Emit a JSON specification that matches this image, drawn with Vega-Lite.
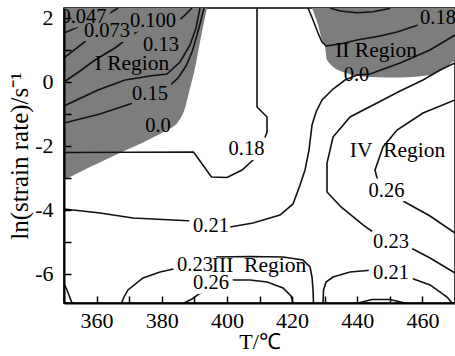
{
  "$schema": "https://vega.github.io/schema/vega-lite/v6.json",
  "width": 391,
  "height": 295,
  "autosize": {"type": "none"},
  "padding": {"left": 64, "top": 8, "right": 0, "bottom": 53},
  "background": "white",
  "config": {"view": {"stroke": "black", "strokeWidth": 1.5}, "font": "Liberation Serif"},
  "datasets": {
    "regions": [
      {"region": "I", "T": 350, "lnr": -3.067}, {"region": "I", "T": 357.98, "lnr": -2.661}, {"region": "I", "T": 367.8, "lnr": -2.193},
      {"region": "I", "T": 376.4, "lnr": -1.787}, {"region": "I", "T": 381.0, "lnr": -1.537}, {"region": "I", "T": 384.99, "lnr": -1.256},
      {"region": "I", "T": 387.14, "lnr": -0.819}, {"region": "I", "T": 388.37, "lnr": -0.32}, {"region": "I", "T": 390.21, "lnr": 0.43},
      {"region": "I", "T": 391.74, "lnr": 1.241}, {"region": "I", "T": 392.97, "lnr": 1.866}, {"region": "I", "T": 393.89, "lnr": 2.303},
      {"region": "II", "T": 426.12, "lnr": 2.303}, {"region": "II", "T": 427.96, "lnr": 1.772}, {"region": "II", "T": 429.19, "lnr": 1.304},
      {"region": "II", "T": 430.11, "lnr": 1.085}, {"region": "II", "T": 430.72, "lnr": 0.68}, {"region": "II", "T": 435.63, "lnr": 0.305},
      {"region": "II", "T": 443.92, "lnr": 0.149}, {"region": "II", "T": 453.13, "lnr": 0.133}, {"region": "II", "T": 462.34, "lnr": 0.211},
      {"region": "II", "T": 466.95, "lnr": 0.43}, {"region": "II", "T": 470, "lnr": 0.68}
    ],
    "contours": [
      {"id": "0.047", "k": 0, "T": 350, "lnr": 1.522}, {"id": "0.047", "k": 1, "T": 356.45, "lnr": 1.803}, {"id": "0.047", "k": 2, "T": 362.58, "lnr": 2.053}, {"id": "0.047", "k": 3, "T": 366.57, "lnr": 2.303},
      {"id": "0.073", "k": 0, "T": 350, "lnr": 0.742}, {"id": "0.073", "k": 1, "T": 357.06, "lnr": 1.304}, {"id": "0.073", "k": 2, "T": 363.2, "lnr": 1.585}, {"id": "0.073", "k": 3, "T": 369.34, "lnr": 1.835}, {"id": "0.073", "k": 4, "T": 371.18, "lnr": 2.084}, {"id": "0.073", "k": 5, "T": 372.41, "lnr": 2.303},
      {"id": "0.100", "k": 0, "T": 350, "lnr": -0.007}, {"id": "0.100", "k": 1, "T": 354.91, "lnr": 0.336}, {"id": "0.100", "k": 2, "T": 359.52, "lnr": 0.68}, {"id": "0.100", "k": 3, "T": 365.65, "lnr": 1.054}, {"id": "0.100", "k": 4, "T": 370.87, "lnr": 1.46}, {"id": "0.100", "k": 5, "T": 373.94, "lnr": 1.679}, {"id": "0.100", "k": 6, "T": 379.47, "lnr": 1.772}, {"id": "0.100", "k": 7, "T": 384.07, "lnr": 1.835}, {"id": "0.100", "k": 8, "T": 386.53, "lnr": 2.022}, {"id": "0.100", "k": 9, "T": 389.29, "lnr": 2.303},
      {"id": "0.13", "k": 0, "T": 350, "lnr": -0.757}, {"id": "0.13", "k": 1, "T": 360.44, "lnr": -0.257}, {"id": "0.13", "k": 2, "T": 368.72, "lnr": 0.055}, {"id": "0.13", "k": 3, "T": 376.4, "lnr": 0.18}, {"id": "0.13", "k": 4, "T": 381.61, "lnr": 0.242}, {"id": "0.13", "k": 5, "T": 385.61, "lnr": 0.617}, {"id": "0.13", "k": 6, "T": 388.67, "lnr": 1.148}, {"id": "0.13", "k": 7, "T": 390.52, "lnr": 1.679}, {"id": "0.13", "k": 8, "T": 391.74, "lnr": 2.303},
      {"id": "0.15", "k": 0, "T": 350, "lnr": -1.287}, {"id": "0.15", "k": 1, "T": 361.05, "lnr": -1.006}, {"id": "0.15", "k": 2, "T": 371.18, "lnr": -0.663}, {"id": "0.15", "k": 3, "T": 376.4, "lnr": -0.476}, {"id": "0.15", "k": 4, "T": 381.61, "lnr": -0.195}, {"id": "0.15", "k": 5, "T": 384.99, "lnr": 0.118}, {"id": "0.15", "k": 6, "T": 387.45, "lnr": 0.492}, {"id": "0.15", "k": 7, "T": 389.29, "lnr": 0.929}, {"id": "0.15", "k": 8, "T": 390.82, "lnr": 1.46}, {"id": "0.15", "k": 9, "T": 392.05, "lnr": 1.928}, {"id": "0.15", "k": 10, "T": 392.97, "lnr": 2.303},
      {"id": "0.18a", "k": 0, "T": 350, "lnr": -2.208}, {"id": "0.18a", "k": 1, "T": 389.75, "lnr": -2.193}, {"id": "0.18a", "k": 2, "T": 395.27, "lnr": -2.973}, {"id": "0.18a", "k": 3, "T": 400.03, "lnr": -2.989}, {"id": "0.18a", "k": 4, "T": 404.64, "lnr": -2.755}, {"id": "0.18a", "k": 5, "T": 408.01, "lnr": -2.443}, {"id": "0.18a", "k": 6, "T": 410.77, "lnr": -1.974}, {"id": "0.18a", "k": 7, "T": 412.31, "lnr": -1.568}, {"id": "0.18a", "k": 8, "T": 412.31, "lnr": -1.1}, {"id": "0.18a", "k": 9, "T": 409.24, "lnr": -0.788}, {"id": "0.18a", "k": 10, "T": 409.24, "lnr": 2.303},
      {"id": "0.18b", "k": 0, "T": 424.89, "lnr": 2.303}, {"id": "0.18b", "k": 1, "T": 426.43, "lnr": 1.928}, {"id": "0.18b", "k": 2, "T": 427.96, "lnr": 1.522}, {"id": "0.18b", "k": 3, "T": 429.19, "lnr": 1.241}, {"id": "0.18b", "k": 4, "T": 430.42, "lnr": 1.117}, {"id": "0.18b", "k": 5, "T": 434.72, "lnr": 1.179}, {"id": "0.18b", "k": 6, "T": 439.93, "lnr": 1.304}, {"id": "0.18b", "k": 7, "T": 446.99, "lnr": 1.429}, {"id": "0.18b", "k": 8, "T": 452.21, "lnr": 1.554}, {"id": "0.18b", "k": 9, "T": 458.66, "lnr": 1.772}, {"id": "0.18b", "k": 10, "T": 462.34, "lnr": 1.928}, {"id": "0.18b", "k": 11, "T": 470, "lnr": 2.178},
      {"id": "top", "k": 0, "T": 431.65, "lnr": 2.303}, {"id": "top", "k": 1, "T": 434.72, "lnr": 2.209}, {"id": "top", "k": 2, "T": 439.93, "lnr": 2.156}, {"id": "top", "k": 3, "T": 444.84, "lnr": 2.187}, {"id": "top", "k": 4, "T": 449.14, "lnr": 2.272}, {"id": "top", "k": 5, "T": 450.06, "lnr": 2.303},
      {"id": "0.21a", "k": 0, "T": 350, "lnr": -3.972}, {"id": "0.21a", "k": 1, "T": 361.05, "lnr": -4.097}, {"id": "0.21a", "k": 2, "T": 371.18, "lnr": -4.253}, {"id": "0.21a", "k": 3, "T": 389.6, "lnr": -4.347}, {"id": "0.21a", "k": 4, "T": 395.12, "lnr": -4.472}, {"id": "0.21a", "k": 5, "T": 400.95, "lnr": -4.535}, {"id": "0.21a", "k": 6, "T": 408.01, "lnr": -4.41}, {"id": "0.21a", "k": 7, "T": 416.3, "lnr": -4.16}, {"id": "0.21a", "k": 8, "T": 420.29, "lnr": -3.816}, {"id": "0.21a", "k": 9, "T": 422.44, "lnr": -3.223}, {"id": "0.21a", "k": 10, "T": 423.97, "lnr": -2.755}, {"id": "0.21a", "k": 11, "T": 425.2, "lnr": -2.13}, {"id": "0.21a", "k": 12, "T": 426.12, "lnr": -1.35}, {"id": "0.21a", "k": 13, "T": 427.35, "lnr": -0.944}, {"id": "0.21a", "k": 14, "T": 429.19, "lnr": -0.569}, {"id": "0.21a", "k": 15, "T": 432.57, "lnr": -0.226}, {"id": "0.21a", "k": 16, "T": 436.25, "lnr": 0.055}, {"id": "0.21a", "k": 17, "T": 439.93, "lnr": 0.211}, {"id": "0.21a", "k": 18, "T": 443.92, "lnr": 0.242}, {"id": "0.21a", "k": 19, "T": 453.13, "lnr": 0.586}, {"id": "0.21a", "k": 20, "T": 462.34, "lnr": 0.992}, {"id": "0.21a", "k": 21, "T": 470, "lnr": 1.46},
      {"id": "0.23a", "k": 0, "T": 470, "lnr": 0.586}, {"id": "0.23a", "k": 1, "T": 465.41, "lnr": 0.367}, {"id": "0.23a", "k": 2, "T": 460.19, "lnr": 0.055}, {"id": "0.23a", "k": 3, "T": 453.13, "lnr": -0.288}, {"id": "0.23a", "k": 4, "T": 446.07, "lnr": -0.663}, {"id": "0.23a", "k": 5, "T": 437.78, "lnr": -1.1}, {"id": "0.23a", "k": 6, "T": 432.57, "lnr": -1.725}, {"id": "0.23a", "k": 7, "T": 430.72, "lnr": -2.536}, {"id": "0.23a", "k": 8, "T": 430.72, "lnr": -3.442}, {"id": "0.23a", "k": 9, "T": 435.02, "lnr": -3.91}, {"id": "0.23a", "k": 10, "T": 441.77, "lnr": -4.472}, {"id": "0.23a", "k": 11, "T": 446.07, "lnr": -4.784}, {"id": "0.23a", "k": 12, "T": 451.29, "lnr": -5.003}, {"id": "0.23a", "k": 13, "T": 456.51, "lnr": -5.19}, {"id": "0.23a", "k": 14, "T": 462.34, "lnr": -5.502}, {"id": "0.23a", "k": 15, "T": 470, "lnr": -5.971},
      {"id": "0.26a", "k": 0, "T": 470, "lnr": -0.569}, {"id": "0.26a", "k": 1, "T": 460.19, "lnr": -0.975}, {"id": "0.26a", "k": 2, "T": 452.21, "lnr": -1.506}, {"id": "0.26a", "k": 3, "T": 447.91, "lnr": -2.037}, {"id": "0.26a", "k": 4, "T": 445.45, "lnr": -2.755}, {"id": "0.26a", "k": 5, "T": 446.37, "lnr": -3.129}, {"id": "0.26a", "k": 6, "T": 448.83, "lnr": -3.442}, {"id": "0.26a", "k": 7, "T": 454.05, "lnr": -3.723}, {"id": "0.26a", "k": 8, "T": 462.34, "lnr": -4.191}, {"id": "0.26a", "k": 9, "T": 470, "lnr": -4.722},
      {"id": "0.23b", "k": 0, "T": 367.65, "lnr": -6.908}, {"id": "0.23b", "k": 1, "T": 368.42, "lnr": -6.72}, {"id": "0.23b", "k": 2, "T": 369.64, "lnr": -6.501}, {"id": "0.23b", "k": 3, "T": 374.25, "lnr": -6.127}, {"id": "0.23b", "k": 4, "T": 379.47, "lnr": -5.939}, {"id": "0.23b", "k": 5, "T": 384.99, "lnr": -5.815}, {"id": "0.23b", "k": 6, "T": 390.21, "lnr": -5.658}, {"id": "0.23b", "k": 7, "T": 395.43, "lnr": -5.471}, {"id": "0.23b", "k": 8, "T": 407.09, "lnr": -5.455}, {"id": "0.23b", "k": 9, "T": 417.22, "lnr": -5.471}, {"id": "0.23b", "k": 10, "T": 423.36, "lnr": -5.565}, {"id": "0.23b", "k": 11, "T": 425.51, "lnr": -5.783}, {"id": "0.23b", "k": 12, "T": 426.12, "lnr": -6.096}, {"id": "0.23b", "k": 13, "T": 426.43, "lnr": -6.501}, {"id": "0.23b", "k": 14, "T": 426.58, "lnr": -6.908},
      {"id": "0.26b", "k": 0, "T": 386.83, "lnr": -6.908}, {"id": "0.26b", "k": 1, "T": 389.29, "lnr": -6.782}, {"id": "0.26b", "k": 2, "T": 391.44, "lnr": -6.626}, {"id": "0.26b", "k": 3, "T": 395.12, "lnr": -6.408}, {"id": "0.26b", "k": 4, "T": 400.03, "lnr": -6.189}, {"id": "0.26b", "k": 5, "T": 407.09, "lnr": -6.189}, {"id": "0.26b", "k": 6, "T": 412.31, "lnr": -6.252}, {"id": "0.26b", "k": 7, "T": 417.22, "lnr": -6.439}, {"id": "0.26b", "k": 8, "T": 419.68, "lnr": -6.689}, {"id": "0.26b", "k": 9, "T": 420.29, "lnr": -6.908},
      {"id": "0.21b", "k": 0, "T": 429.5, "lnr": -6.908}, {"id": "0.21b", "k": 1, "T": 429.65, "lnr": -6.501}, {"id": "0.21b", "k": 2, "T": 430.42, "lnr": -6.252}, {"id": "0.21b", "k": 3, "T": 432.57, "lnr": -6.096}, {"id": "0.21b", "k": 4, "T": 437.78, "lnr": -5.939}, {"id": "0.21b", "k": 5, "T": 444.84, "lnr": -5.877}, {"id": "0.21b", "k": 6, "T": 450.37, "lnr": -5.939}, {"id": "0.21b", "k": 7, "T": 455.59, "lnr": -6.096}, {"id": "0.21b", "k": 8, "T": 462.34, "lnr": -6.345}, {"id": "0.21b", "k": 9, "T": 467.56, "lnr": -6.72}, {"id": "0.21b", "k": 10, "T": 469.09, "lnr": -6.908},
      {"id": "corner", "k": 0, "T": 350, "lnr": -6.314}, {"id": "corner", "k": 1, "T": 350.92, "lnr": -6.501}, {"id": "corner", "k": 2, "T": 352.46, "lnr": -6.908},
      {"id": "bump", "k": 0, "T": 440.24, "lnr": -6.908}, {"id": "bump", "k": 1, "T": 444.53, "lnr": -6.798}, {"id": "bump", "k": 2, "T": 450.06, "lnr": -6.798}, {"id": "bump", "k": 3, "T": 454.67, "lnr": -6.908}
    ],
    "labels": [
      {"text": "0.047", "kind": "contour", "zone": "shaded", "T": 355.99, "lnr": 2.022},
      {"text": "0.073", "kind": "contour", "zone": "shaded", "T": 363.2, "lnr": 1.585},
      {"text": "0.100", "kind": "contour", "zone": "shaded", "T": 377.32, "lnr": 1.897},
      {"text": "0.13", "kind": "contour", "zone": "shaded", "T": 379.77, "lnr": 1.148},
      {"text": "0.15", "kind": "contour", "zone": "shaded", "T": 376.4, "lnr": -0.382},
      {"text": "0.0", "kind": "contour", "zone": "none", "T": 378.85, "lnr": -1.381},
      {"text": "0.18", "kind": "contour", "zone": "shaded", "T": 464.8, "lnr": 2.006},
      {"text": "0.0", "kind": "contour", "zone": "none", "T": 439.78, "lnr": 0.211},
      {"text": "0.18", "kind": "contour", "zone": "clear", "T": 406.02, "lnr": -2.084},
      {"text": "0.21", "kind": "contour", "zone": "clear", "T": 395.12, "lnr": -4.519},
      {"text": "0.26", "kind": "contour", "zone": "clear", "T": 448.98, "lnr": -3.426},
      {"text": "0.23", "kind": "contour", "zone": "clear", "T": 450.37, "lnr": -5.018},
      {"text": "0.21", "kind": "contour", "zone": "clear", "T": 450.37, "lnr": -5.971},
      {"text": "0.23", "kind": "contour", "zone": "clear", "T": 390.21, "lnr": -5.721},
      {"text": "0.26", "kind": "contour", "zone": "clear", "T": 395.12, "lnr": -6.292},
      {"text": "I Region", "kind": "region", "zone": "none", "T": 370.87, "lnr": 0.539},
      {"text": "II Region", "kind": "region", "zone": "none", "T": 445.77, "lnr": 0.945},
      {"text": "III\u00a0\u00a0Region", "kind": "region", "zone": "none", "T": 409.85, "lnr": -5.768},
      {"text": "IV\u00a0\u00a0Region", "kind": "region", "zone": "none", "T": 452.36, "lnr": -2.177}
    ]
  },
  "encoding": {
    "x": {
      "field": "T", "type": "quantitative",
      "scale": {"domain": [350, 470], "nice": false, "zero": false},
      "axis": {
        "title": "T/℃", "values": [350, 360, 370, 380, 390, 400, 410, 420, 430, 440, 450, 460, 470],
        "labelExpr": "datum.value % 20 == 0 ? '' + datum.value : ''",
        "tickSize": -7, "tickWidth": 1.5, "tickColor": "black", "labelPadding": 14,
        "labelFontSize": 22, "labelFont": "Liberation Serif", "labelColor": "black",
        "titleFontSize": 22, "titleFont": "Liberation Serif", "titleFontWeight": "normal", "titleColor": "black", "titlePadding": 0,
        "domainColor": "black", "domainWidth": 2, "grid": false, "zindex": 1, "labelFlush": false, "labelOverlap": false
      }
    },
    "y": {
      "field": "lnr", "type": "quantitative",
      "scale": {"domain": [-6.908, 2.303], "nice": false, "zero": false},
      "axis": {
        "title": "ln(strain rate)/s⁻¹", "values": [-6, -5, -4, -3, -2, -1, 0, 1, 2],
        "labelExpr": "datum.value % 2 == 0 ? '' + datum.value : ''",
        "tickSize": -7, "tickWidth": 1.5, "tickColor": "black", "labelPadding": 18,
        "labelFontSize": 22, "labelFont": "Liberation Serif", "labelColor": "black",
        "titleFontSize": 25, "titleFont": "Liberation Serif", "titleFontWeight": "normal", "titleColor": "black", "titlePadding": 2,
        "domainColor": "black", "domainWidth": 2, "grid": false, "zindex": 1, "labelFlush": false, "labelOverlap": false
      }
    }
  },
  "layer": [
    {
      "data": {"name": "regions"},
      "mark": {"type": "area", "color": "#7d7d7d", "clip": true, "interpolate": "monotone"},
      "encoding": {"y2": {"datum": 2.303}, "detail": {"field": "region"}}
    },
    {
      "data": {"name": "contours"},
      "mark": {"type": "line", "color": "#111111", "strokeWidth": 1.6, "clip": true},
      "encoding": {"detail": {"field": "id"}, "order": {"field": "k", "type": "quantitative"}}
    },
    {
      "data": {"name": "labels"},
      "transform": [{"filter": "datum.zone == 'shaded'"}],
      "mark": {"type": "text", "font": "Liberation Serif", "fontSize": 20.5, "fill": "#7d7d7d", "stroke": "#7d7d7d", "strokeWidth": 10, "strokeJoin": "round", "baseline": "middle", "clip": true},
      "encoding": {"text": {"field": "text"}}
    },
    {
      "data": {"name": "labels"},
      "transform": [{"filter": "datum.zone == 'clear'"}],
      "mark": {"type": "text", "font": "Liberation Serif", "fontSize": 20.5, "fill": "white", "stroke": "white", "strokeWidth": 10, "strokeJoin": "round", "baseline": "middle", "clip": true},
      "encoding": {"text": {"field": "text"}}
    },
    {
      "data": {"name": "labels"},
      "transform": [{"filter": "datum.kind == 'contour'"}],
      "mark": {"type": "text", "font": "Liberation Serif", "fontSize": 20.5, "color": "black", "baseline": "middle", "clip": true},
      "encoding": {"text": {"field": "text"}}
    },
    {
      "data": {"name": "labels"},
      "transform": [{"filter": "datum.kind == 'region'"}],
      "mark": {"type": "text", "font": "Liberation Serif", "fontSize": 21.5, "color": "black", "baseline": "middle", "clip": true},
      "encoding": {"text": {"field": "text"}}
    }
  ]
}
